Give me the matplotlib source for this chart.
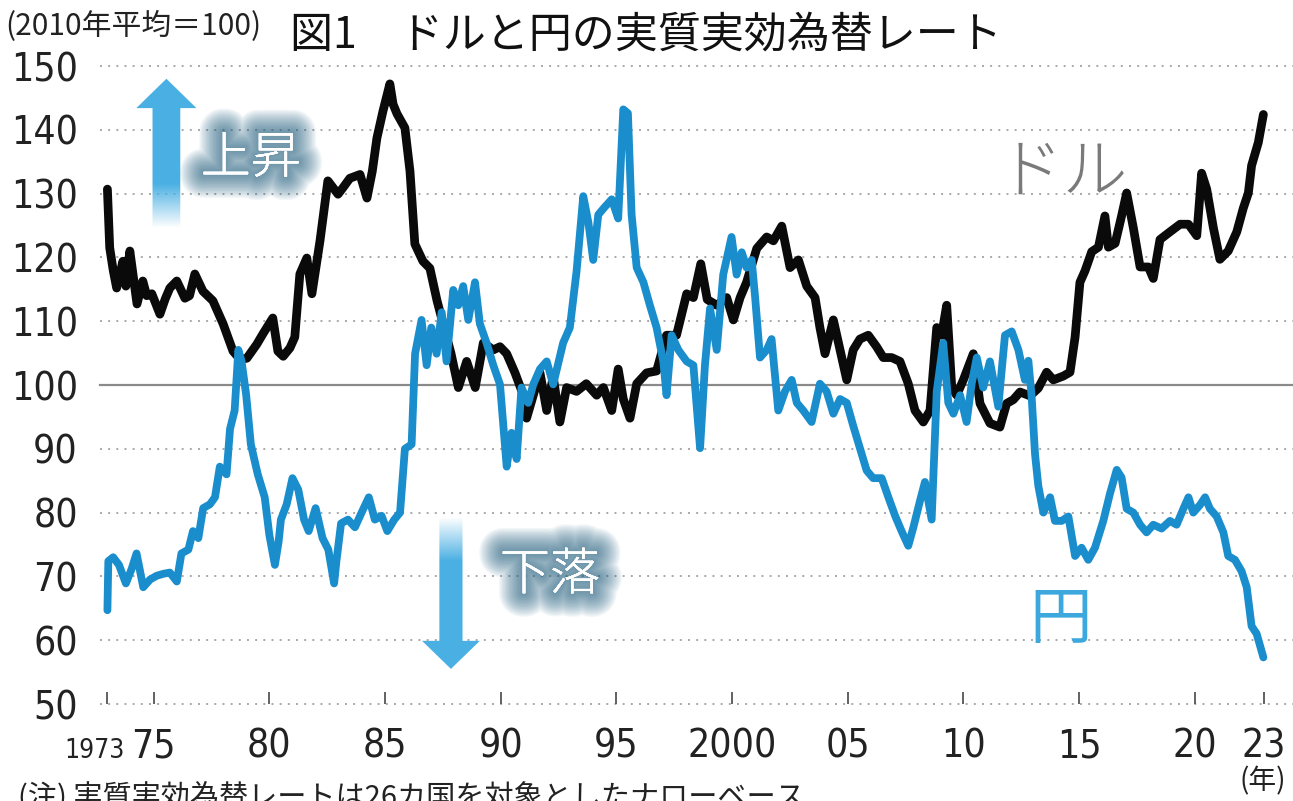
import numpy as np
import matplotlib
matplotlib.use('Agg')
import matplotlib.pyplot as plt
import matplotlib.patheffects as pe
from matplotlib.patches import Polygon
from matplotlib import font_manager

# ---------------------------------- data (2010 avg = 100)
usd_year = [1973.0, 1973.1, 1973.25, 1973.4, 1973.67, 1973.8, 1973.97, 1974.28, 1974.53, 1974.7,
            1974.92, 1975.27, 1975.5, 1975.7, 1976.0, 1976.35, 1976.55, 1976.78, 1977.13, 1977.56,
            1978.0, 1978.43, 1978.75, 1979.03, 1979.46, 1979.72, 1980.15, 1980.37, 1980.6, 1980.89,
            1981.1, 1981.32, 1981.62, 1981.84, 1982.19, 1982.53, 1982.97, 1983.2, 1983.48, 1983.92,
            1984.22, 1984.45, 1984.65, 1984.91, 1985.21, 1985.35, 1985.52, 1985.86, 1986.08, 1986.29,
            1986.64, 1986.94, 1987.25, 1987.51, 1987.85, 1988.17, 1988.53, 1988.9, 1989.25, 1989.68,
            1989.97, 1990.26, 1990.62, 1990.98, 1991.12, 1991.41, 1991.7, 1991.99, 1992.27, 1992.56,
            1992.85, 1993.28, 1993.7, 1994.15, 1994.44, 1994.8, 1995.08, 1995.3, 1995.59, 1995.88,
            1996.31, 1996.74, 1997.17, 1997.6, 1998.04, 1998.33, 1998.65, 1998.93, 1999.34, 1999.77,
            2000.06, 2000.35, 2000.63, 2001.07, 2001.5, 2001.79, 2002.15, 2002.51, 2002.87, 2003.23,
            2003.59, 2003.8, 2004.02, 2004.38, 2004.67, 2004.96, 2005.24, 2005.53, 2005.89, 2006.25,
            2006.54, 2006.9, 2007.26, 2007.62, 2007.91, 2008.27, 2008.56, 2008.85, 2009.06, 2009.28,
            2009.5, 2009.71, 2010.0, 2010.43, 2010.72, 2011.15, 2011.58, 2011.87, 2012.16, 2012.45,
            2012.88, 2013.24, 2013.6, 2013.89, 2014.32, 2014.61, 2014.83, 2015.04, 2015.26, 2015.55,
            2015.84, 2016.12, 2016.27, 2016.56, 2016.84, 2017.06, 2017.35, 2017.64, 2018.0, 2018.21,
            2018.5, 2018.93, 2019.37, 2019.73, 2020.09, 2020.3, 2020.52, 2020.81, 2021.09, 2021.45,
            2021.82, 2022.1, 2022.32, 2022.46, 2022.75, 2022.97]
usd_val = [130.7, 121.5, 118.0, 115.2, 119.4, 115.5, 121.0, 112.7, 116.3, 114.0,
           114.3, 111.1, 113.5, 115.2, 116.3, 113.6, 114.0, 117.4, 114.7, 113.2,
           109.6, 105.3, 104.0, 104.2, 106.4, 108.0, 110.5, 105.3, 104.5, 105.8,
           107.5, 117.4, 119.9, 114.3, 122.6, 132.0, 129.9, 131.0, 132.4, 133.0,
           129.3, 133.5, 138.7, 142.9, 147.2, 144.0, 142.5, 140.3, 133.5, 122.1,
           119.4, 118.3, 113.2, 109.6, 105.0, 99.6, 103.7, 99.6, 106.6, 105.5,
           106.0, 104.9, 101.9, 98.4, 94.8, 98.4, 101.9, 96.0, 101.3, 94.2,
           99.6, 99.0, 100.2, 98.4, 99.6, 96.0, 102.5, 97.8, 94.8, 100.2,
           101.9, 102.2, 107.8, 107.8, 114.3, 113.7, 119.0, 113.4, 112.5, 113.7,
           110.2, 113.7, 116.1, 121.4, 123.2, 122.6, 124.9, 118.4, 119.6, 115.5,
           113.7, 109.0, 104.9, 110.2, 105.5, 100.8, 105.5, 107.2, 107.8, 106.0,
           104.3, 104.3, 103.7, 100.2, 96.0, 94.2, 96.0, 109.0, 107.8, 112.5,
           99.6, 98.4, 100.8, 104.9, 97.1, 94.0, 93.4, 97.1, 97.7, 98.9,
           98.3, 99.5, 102.0, 100.8, 101.4, 102.0, 107.5, 116.1, 117.9, 120.9,
           121.6, 126.5, 121.6, 122.2, 126.5, 130.1, 124.6, 118.5, 118.5, 116.7,
           122.8, 124.0, 125.2, 125.2, 123.4, 133.2, 130.7, 124.6, 119.7, 121.0,
           124.0, 127.7, 130.1, 134.4, 138.0, 142.4]

jpy_year = [1973.0, 1973.04, 1973.25, 1973.5, 1973.8, 1974.05, 1974.26, 1974.55, 1974.84, 1975.13,
            1975.41, 1975.7, 1976.0, 1976.2, 1976.5, 1976.7, 1976.93, 1977.14, 1977.43, 1977.65,
            1977.86, 1978.15, 1978.3, 1978.5, 1978.66, 1978.8, 1979.0, 1979.2, 1979.5, 1979.8,
            1980.0, 1980.24, 1980.4, 1980.5, 1980.75, 1981.0, 1981.25, 1981.5, 1981.7, 1982.0,
            1982.3, 1982.55, 1982.8, 1982.9, 1983.1, 1983.4, 1983.7, 1984.0, 1984.3, 1984.56,
            1984.85, 1985.1, 1985.4, 1985.65, 1985.86, 1986.15, 1986.3, 1986.58, 1986.8, 1987.0,
            1987.23, 1987.45, 1987.66, 1987.95, 1988.17, 1988.38, 1988.6, 1988.89, 1989.1, 1989.39,
            1989.68, 1989.97, 1990.26, 1990.47, 1990.69, 1990.9, 1991.19, 1991.41, 1991.7, 1991.99,
            1992.27, 1992.7, 1992.99, 1993.28, 1993.57, 1993.79, 1994.0, 1994.22, 1994.5, 1994.8,
            1995.08, 1995.3, 1995.5, 1995.66, 1995.88, 1996.17, 1996.45, 1996.74, 1997.03, 1997.17,
            1997.39, 1997.68, 1998.04, 1998.33, 1998.62, 1998.83, 1999.05, 1999.34, 1999.62, 1999.98,
            2000.2, 2000.42, 2000.63, 2000.85, 2001.0, 2001.21, 2001.5, 2001.71, 2002.0, 2002.29,
            2002.58, 2002.8, 2003.08, 2003.44, 2003.8, 2004.09, 2004.38, 2004.67, 2004.96, 2005.24,
            2005.53, 2005.82, 2006.1, 2006.47, 2006.76, 2007.05, 2007.33, 2007.62, 2007.84, 2008.13,
            2008.34, 2008.63, 2008.85, 2009.13, 2009.35, 2009.57, 2009.86, 2010.14, 2010.36, 2010.58,
            2010.86, 2011.15, 2011.51, 2011.8, 2012.09, 2012.38, 2012.66, 2012.81, 2012.95, 2013.1,
            2013.24, 2013.46, 2013.75, 2013.96, 2014.25, 2014.54, 2014.83, 2015.11, 2015.4, 2015.69,
            2016.05, 2016.34, 2016.63, 2016.84, 2017.06, 2017.35, 2017.64, 2017.92, 2018.21, 2018.57,
            2018.93, 2019.22, 2019.51, 2019.73, 2019.94, 2020.23, 2020.45, 2020.66, 2020.95, 2021.24,
            2021.45, 2021.74, 2022.03, 2022.25, 2022.46, 2022.68, 2022.97]
jpy_val = [64.7, 72.4, 73.0, 71.8, 68.9, 71.2, 73.6, 68.3, 69.5, 70.1,
           70.4, 70.6, 69.2, 73.6, 74.2, 77.1, 76.0, 80.7, 81.3, 82.4,
           87.2, 86.0, 93.1, 96.0, 105.5, 103.7, 98.4, 90.7, 86.0, 82.4,
           76.5, 71.8, 75.4, 78.9, 81.3, 85.4, 83.6, 78.9, 77.1, 80.7,
           76.0, 74.2, 68.9, 72.4, 78.3, 78.9, 77.7, 80.1, 82.4, 78.9,
           79.5, 77.1, 78.9, 80.0, 90.0, 90.7, 104.9, 110.2, 103.1, 109.0,
           104.9, 111.4, 103.7, 114.9, 112.5, 115.5, 110.2, 116.1, 109.6, 106.6,
           103.1, 100.1, 87.2, 92.5, 88.4, 99.6, 97.2, 100.1, 102.5, 103.7,
           100.1, 106.6, 109.0, 117.8, 129.6, 125.5, 119.6, 126.7, 127.9, 129.1,
           126.1, 143.2, 142.6, 126.7, 118.4, 116.1, 112.5, 109.0, 103.7, 98.4,
           107.8, 105.5, 103.7, 103.1, 90.1, 103.1, 112.0, 105.5, 117.3, 123.2,
           117.3, 120.8, 118.4, 119.6, 113.7, 104.3, 105.5, 107.2, 96.0, 99.0,
           100.8, 97.2, 96.0, 94.2, 100.2, 99.0, 95.5, 97.8, 97.2, 93.6,
           90.1, 86.6, 85.4, 85.4, 82.4, 79.5, 77.1, 74.8, 77.7, 81.9,
           84.8, 78.9, 99.0, 106.6, 97.2, 95.5, 98.4, 94.2, 100.2, 104.3,
           99.6, 103.7, 96.6, 107.8, 108.4, 105.5, 100.8, 103.8, 98.3, 89.1,
           84.2, 80.0, 82.4, 78.7, 78.7, 79.4, 73.2, 74.5, 72.6, 74.5,
           78.7, 83.0, 86.7, 85.5, 80.6, 80.0, 78.1, 76.9, 78.1, 77.5,
           78.7, 78.1, 80.6, 82.4, 80.0, 81.2, 82.4, 80.6, 79.4, 76.9,
           73.2, 72.6, 70.8, 68.3, 62.2, 61.0, 57.3]

y_ticks = [50, 60, 70, 80, 90, 100, 110, 120, 130, 140, 150]
x_ticks = [1973, 1975, 1980, 1985, 1990, 1995, 2000, 2005, 2010, 2015, 2020, 2023]
x_ticklabels = ['', '75', '80', '85', '90', '95', '2000', '05', '10', '15', '20', '23']
first_label = '1973'   # written apart, it sits a bit left of its tick

title = '図1　ドルと円の実質実効為替レート'
unit = '(2010年平均＝100)'
note = '(注) 実質実効為替レートは26カ国を対象としたナローベース'

# ---------------------------------- fonts
JP = 'Noto Sans CJK JP'
plt.rcParams['font.family'] = [JP, 'DejaVu Sans']

# the numbers in the original are set in a narrow face: use one if the box has it
def narrow_font():
    found = []
    for f in font_manager.fontManager.ttflist:
        tag = (f.name + ' ' + f.fname).lower()
        narrow = ('narrow' in tag or 'condensed' in tag or
                  str(f.stretch) in ('condensed', 'semi-condensed', 'extra-condensed'))
        if narrow and f.style == 'normal' and str(f.weight) in ('400', 'normal', 'regular', 'book'):
            found.append(f.fname)
    if found:
        found.sort(key=lambda p: ('liberation' not in p.lower(), 'dejavu' not in p.lower(), p))
        return font_manager.FontProperties(fname=found[0]), True
    return font_manager.FontProperties(family='Liberation Sans'), False

NUM, is_narrow = narrow_font()
num_size = 28 if is_narrow else 25

BLUE = '#1a8dcc'
ARROW = '#4ab0e3'

W, H = 1293, 801
fig = plt.figure(figsize=(W / 100, H / 100), dpi=100)
ax = fig.add_axes([100 / W, 97 / H, 1193 / W, 638 / H])
ax.set_xlim(1972.68, 2024.25)
ax.set_ylim(50, 150)
for s in ax.spines.values():
    s.set_visible(False)

# grid: dotted, solid at 100
for v in y_ticks:
    if v == 100:
        ax.axhline(v, color='#8a8a8a', lw=1.6, zorder=1, clip_on=False)
    else:
        ax.axhline(v, color='#a8a8a8', lw=1.4, ls=(0, (1, 3.2)), zorder=1, clip_on=False)

ax.set_yticks(y_ticks)
ax.set_yticklabels([str(v) for v in y_ticks], color='#222222')
ax.tick_params(axis='y', length=0, pad=16)

ax.set_xticks(x_ticks)
ax.set_xticklabels(x_ticklabels, color='#222222')
ax.tick_params(axis='x', direction='in', length=9, width=1.3, color='#555555', pad=17)
for lab in ax.get_yticklabels() + ax.get_xticklabels():
    lab.set_fontproperties(NUM)
    lab.set_fontsize(num_size)

first_prop = NUM.copy()
first_prop.set_size(num_size * (0.68 if is_narrow else 0.6))
ax.annotate(first_label, xy=(1973, 0), xycoords=('data', 'axes fraction'),
            xytext=(-9, -39), textcoords='offset points', ha='center', va='baseline',
            fontproperties=first_prop, color='#222222')

# ---------------------------------- lines
ax.plot(usd_year, usd_val, color='#0a0a0a', lw=6.3, solid_joinstyle='round',
        solid_capstyle='round', zorder=3)
ax.plot(jpy_year, jpy_val, color=BLUE, lw=5.6, solid_joinstyle='round',
        solid_capstyle='round', zorder=4)

# ---------------------------------- arrows with faded tail
def fade_arrow(xc, y_tail, y_full, y_base, y_tip, shaft_hw, head_hw):
    pts = [(xc - shaft_hw, y_tail), (xc - shaft_hw, y_base), (xc - head_hw, y_base), (xc, y_tip),
           (xc + head_hw, y_base), (xc + shaft_hw, y_base), (xc + shaft_hw, y_tail)]
    poly = Polygon(pts, closed=True, transform=ax.transData)
    lo, hi = min(y_tail, y_tip), max(y_tail, y_tip)
    yy = np.linspace(lo, hi, 300)
    alpha = np.clip((yy - y_tail) / (y_full - y_tail), 0, 1)
    rgba = np.zeros((300, 2, 4))
    rgba[..., :3] = matplotlib.colors.to_rgb(ARROW)
    rgba[..., 3] = alpha[:, None]
    im = ax.imshow(rgba, extent=[xc - head_hw, xc + head_hw, lo, hi], origin='lower',
                   aspect='auto', interpolation='bilinear', zorder=2)
    im.set_clip_path(poly)

fade_arrow(1975.55, 124.6, 131.5, 143.4, 148.0, 0.6, 1.3)
fade_arrow(1987.85, 79.2, 72.4, 59.9, 55.5, 0.5, 1.25)

# glow text
glow = [pe.withStroke(linewidth=w, foreground='#225f80', alpha=0.055) for w in range(34, 1, -2)]
glow.append(pe.Normal())
for txt, x, y in [('上昇', 1979.2, 135.4), ('下落', 1992.13, 70.1)]:
    ax.text(x, y, txt, fontsize=36, color='white', ha='center', va='center',
            fontweight='light', path_effects=glow, zorder=5)

ax.text(2014.3, 133.2, 'ドル', fontsize=47, color='#7a7a7a', ha='center', va='center',
        fontweight='light', zorder=5)
ax.text(2014.22, 63.2, '円', fontsize=45, color='#3ca8de', ha='center', va='center', zorder=5)

ax.set_xlim(1972.68, 2024.25)
ax.set_ylim(50, 150)

# ---------------------------------- titles and notes
fig.text(5 / W, 1 - 26 / H, unit, fontsize=21.5, va='center', ha='left', color='#222222')
fig.text(290 / W, 1 - 36 / H, title, fontsize=31, va='center', ha='left', color='#111111')
fig.text(1263 / W, 1 - 781 / H, '(年)', fontsize=20, va='center', ha='center', color='#222222')
fig.text(18 / W, 1 - 797 / H, note, fontsize=21, va='center', ha='left', color='#222222')

fig.savefig('out.png', dpi=100)
